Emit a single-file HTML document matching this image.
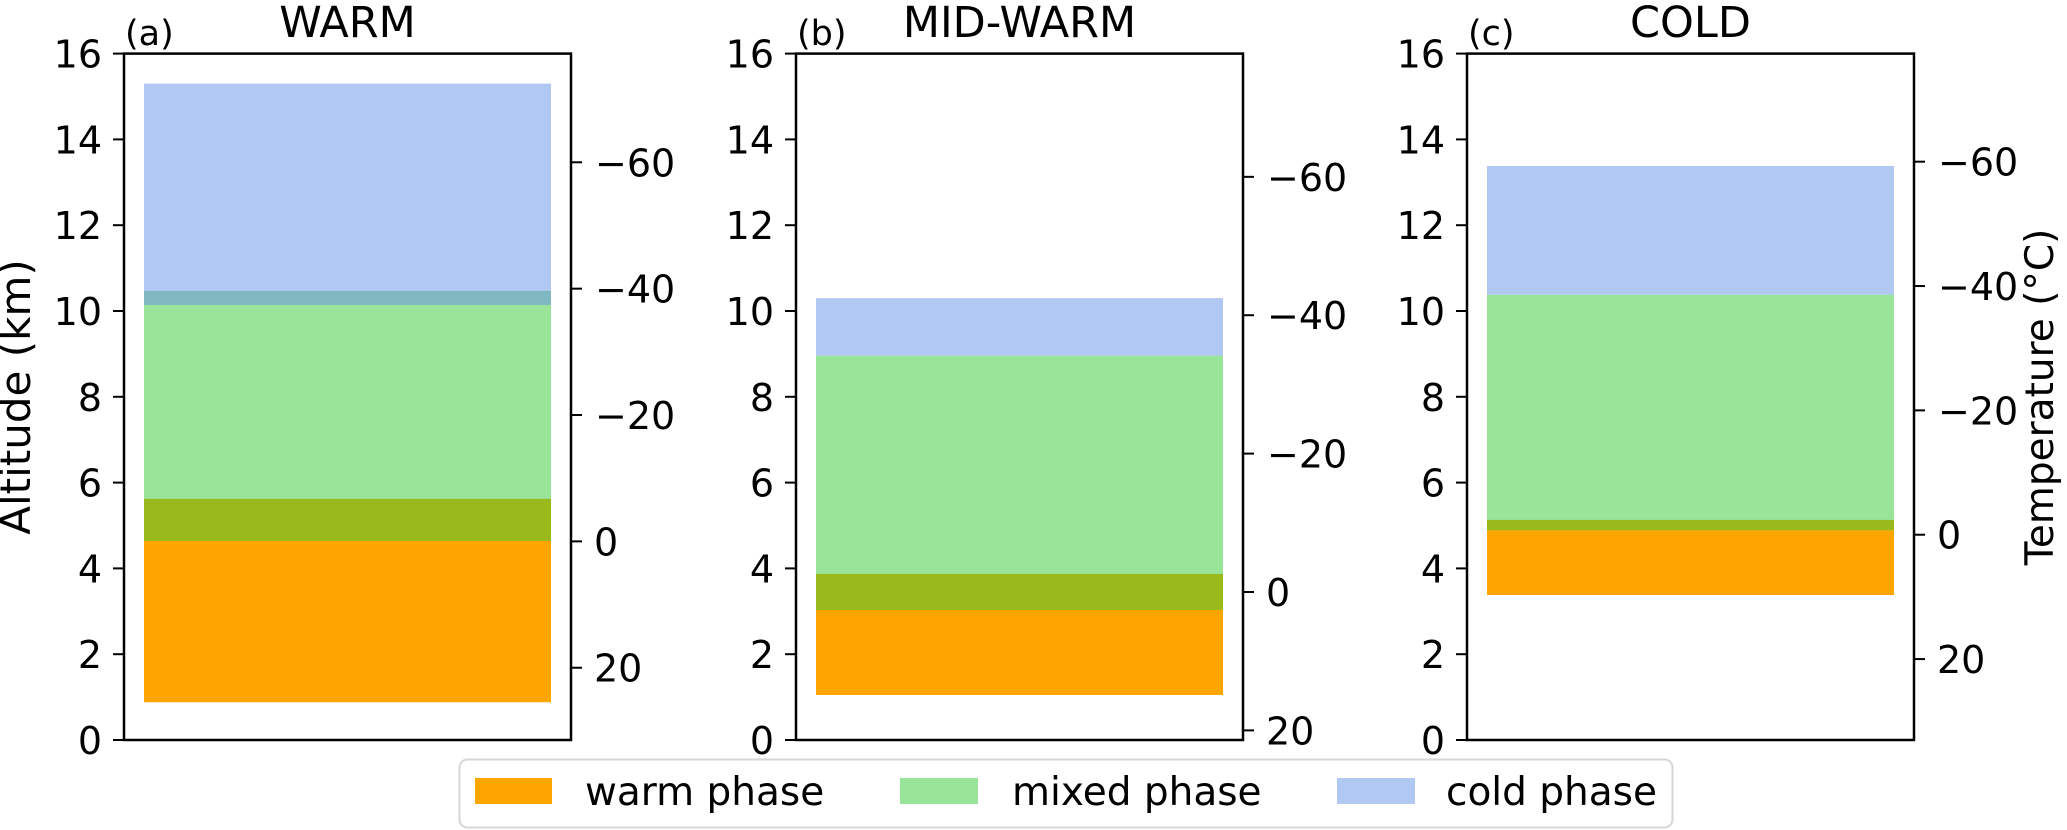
<!DOCTYPE html>
<html><head><meta charset="utf-8"><style>
html,body{margin:0;padding:0;background:#fff;}
svg{display:block;font-family:"DejaVu Sans","Liberation Sans",sans-serif;}
</style></head><body>
<svg id="fig" width="2067" height="830" viewBox="0 0 2067 830" xmlns="http://www.w3.org/2000/svg">
<g id="plots"></g>
<g>
  <rect x="459.5" y="759.5" width="1213" height="68" rx="8" fill="#fff" stroke="#d6d6d6" stroke-width="2"/>
  <rect x="475" y="778" width="77" height="26" fill="#FFA500"/>
  <text x="585" y="805" font-size="39">warm phase</text>
  <rect x="900" y="778" width="78" height="26" fill="#98E498"/>
  <text x="1012" y="805" font-size="39">mixed phase</text>
  <rect x="1337" y="778" width="78" height="26" fill="#B0C8F2"/>
  <text x="1446" y="805" font-size="39">cold phase</text>
</g>
<text transform="translate(30,397) rotate(-90)" text-anchor="middle" font-size="42">Altitude (km)</text>
<text transform="translate(2053,397) rotate(-90)" text-anchor="middle" font-size="39">Temperature (°C)</text>
</svg>
<script>
const panelNames = ["WARM", "MID-WARM", "COLD"];
const panelLetters = ["(a)", "(b)", "(c)"];
const warmBottom = [0.88, 1.05, 3.38];
const warmTop = [5.62, 3.87, 5.13];
const mixedBottom = [4.64, 3.03, 4.89];
const mixedTop = [10.47, 8.96, 10.38];
const coldBottom = [10.14, 8.96, 10.38];
const coldTop = [15.3, 10.30, 13.38];
const freezingLevel = [4.63, 3.45, 4.785];
const lapseRate = [6.79, 6.20, 6.90];
const altTicks = [0, 2, 4, 6, 8, 10, 12, 14, 16];
const tempTicks = [-60, -40, -20, 0, 20];

const NS = "http://www.w3.org/2000/svg";
const root = document.getElementById("plots");
const panelLeft = [124, 796, 1467];
const W = 447, Y0 = 740, Y16 = 53.6;
function yScale(a){ return Y0 - (a/16)*(Y0-Y16); }
function mk(tag, attrs, parent){
  const e = document.createElementNS(NS, tag);
  for (const k in attrs) e.setAttribute(k, attrs[k]);
  parent.appendChild(e);
  return e;
}
function band(g, x, w, lo, hi, color, name){
  if (hi <= lo) return;
  const r = mk("rect", {x:x, y:yScale(hi), width:w, height:yScale(lo)-yScale(hi), fill:color}, g);
  
  
}
for (let i = 0; i < 3; i++){
  const L = panelLeft[i], R = L + W;
  const g = mk("g", {}, root);
  
  
  const bx = L + 20, bw = W - 40;
  band(g, bx, bw, warmBottom[i], warmTop[i], "#FFA500", "bar-warm-phase");
  band(g, bx, bw, mixedBottom[i], mixedTop[i], "#98E498", "bar-mixed-phase");
  band(g, bx, bw, coldBottom[i], coldTop[i], "#B0C8F2", "bar-cold-phase");
  band(g, bx, bw, Math.max(warmBottom[i], mixedBottom[i]), Math.min(warmTop[i], mixedTop[i]), "#99B91C", "overlap-warm-mixed");
  band(g, bx, bw, Math.max(coldBottom[i], mixedBottom[i]), Math.min(coldTop[i], mixedTop[i]), "#7FB8C0", "overlap-mixed-cold");
  const frame = mk("rect", {x:L, y:Y16, width:W, height:Y0-Y16, fill:"none", stroke:"#000", "stroke-width":2.5}, g);
  
  
  altTicks.forEach(function(t){
    const y = yScale(t);
    const tk = mk("line", {x1:L-11, x2:L, y1:y, y2:y, stroke:"#000", "stroke-width":2}, g);
    
    
    const tx = mk("text", {x:L-22, y:y+14, "text-anchor":"end", "font-size":38}, g);
    
    
    tx.textContent = t;
  });
  tempTicks.forEach(function(t){
    const alt = freezingLevel[i] - t / lapseRate[i];
    const y = yScale(alt);
    if (y > Y0 + 1 || y < Y16 - 1) return;
    const tk = mk("line", {x1:R, x2:R+11, y1:y, y2:y, stroke:"#000", "stroke-width":2}, g);
    
    
    const tx = mk("text", {x: t < 0 ? R+24 : R+23, y:y+14, "font-size":38}, g);
    
    
    tx.textContent = t < 0 ? "\u2212" + Math.abs(t) : String(t);
  });
  const ttl = mk("text", {x:L+W/2, y:37, "text-anchor":"middle", "font-size":43}, g);
  
  
  ttl.textContent = panelNames[i];
  const lt = mk("text", {x:L+1, y:45, "font-size":35}, g);
  
  
  lt.textContent = panelLetters[i];
}
</script>
</body></html>
